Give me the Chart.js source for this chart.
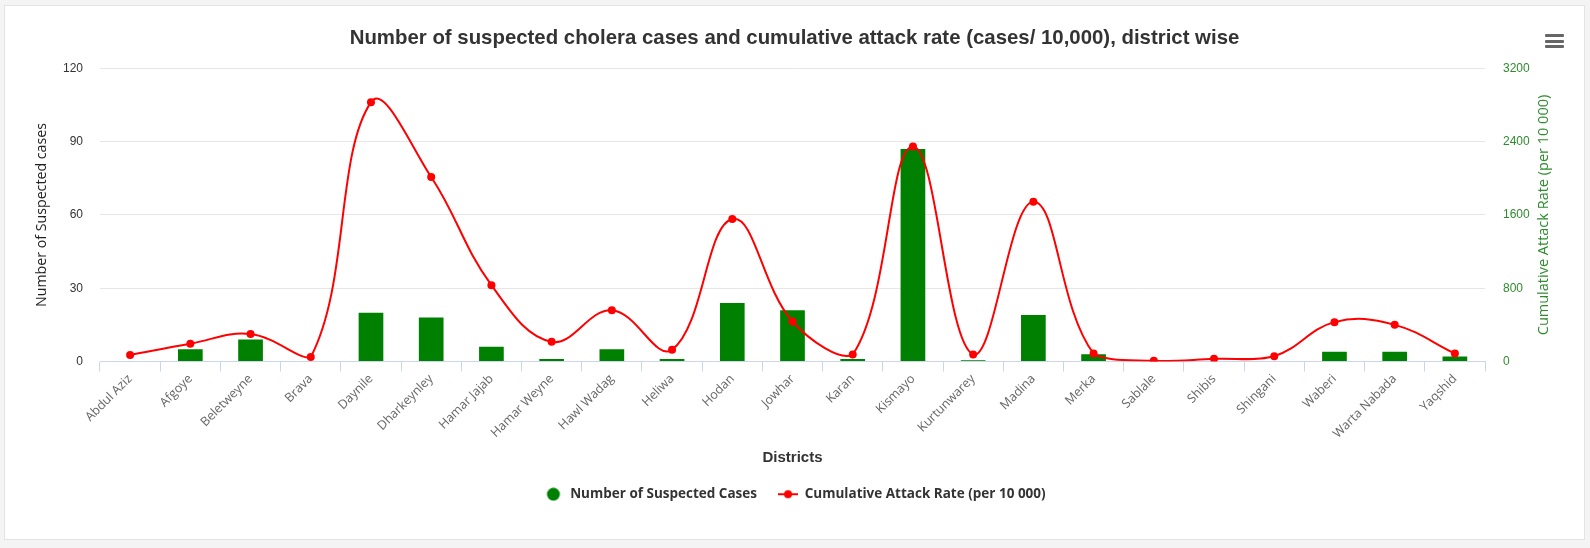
<!DOCTYPE html>
<html lang="en">
<head>
<meta charset="UTF-8">
<script src="https://cdn.jsdelivr.net/npm/chart.js@4.4.0/dist/chart.umd.min.js"></script>
<title>cholera districts</title>
<style>
    body { margin: 0; background: #f4f4f4; width: 1590px; height: 548px; overflow: hidden; }
    .card { position: absolute; left: 4px; top: 5px; width: 1579px; height: 533px; background: #fff; border: 1px solid #e3e3e3; }
    .menu { position: absolute; left: 1545px; top: 34px; width: 19px; }
    .menu span { display: block; height: 3px; background: #666; margin-bottom: 2.5px; border-radius: 1px; }
</style>
</head>
<body>
<div class="card">
    <canvas id="chart" width="1579" height="533"></canvas>
</div>
<div class="menu"><span></span><span></span><span></span></div>

<script>
    // districts along the x axis
    var districts = ['Abdul Aziz', 'Afgoye', 'Beletweyne', 'Brava', 'Daynile', 'Dharkeynley', 'Hamar Jajab',
        'Hamar Weyne', 'Hawl Wadag', 'Heliwa', 'Hodan', 'Jowhar', 'Karan', 'Kismayo', 'Kurtunwarey',
        'Madina', 'Merka', 'Sablale', 'Shibis', 'Shingani', 'Waberi', 'Warta Nabada', 'Yaqshid']
    // number of suspected cases (left axis)
    var cases = [0, 5, 9, 0, 20, 18, 6, 1, 5, 1, 24, 21, 1, 87, 0.5, 19, 3, 0, 0, 0, 4, 4, 2]
    // cumulative attack rate per 10 000 (right axis)
    var rates = [72, 195, 300, 48, 2832, 2015, 834, 215, 560, 127, 1556, 437, 76, 2348, 76, 1745, 87, 7, 29, 58, 430, 400, 87]

    var casesTicks = { min: 0, max: 120, step: 30 }
    var ratesTicks = { min: 0, max: 3200, step: 800 }

    var green = '#008000'
    var red = '#ff0000'
    var axisGreen = '#2e8b2e'

    // legend symbols
    function symbol (draw) {
        var c = document.createElement('canvas')
        c.width = 20
        c.height = 14
        draw(c.getContext('2d'))
        return c
    }
    var dotSymbol = symbol(function (g) {
        g.fillStyle = green
        g.beginPath(); g.arc(10, 7, 6.5, 0, Math.PI * 2); g.fill()
    })
    var lineSymbol = symbol(function (g) {
        g.strokeStyle = red
        g.lineWidth = 2
        g.beginPath(); g.moveTo(0, 7); g.lineTo(20, 7); g.stroke()
        g.fillStyle = red
        g.beginPath(); g.arc(10, 7, 4, 0, Math.PI * 2); g.fill()
    })

    // right axis title reads bottom-to-top like the left one
    var rightTitle = {
        id: 'rightTitle',
        afterDraw: function (chart) {
            var ctx = chart.ctx
            var area = chart.chartArea
            ctx.save()
            ctx.translate(1539, (area.top + area.bottom) / 2)
            ctx.rotate(-Math.PI / 2)
            ctx.font = '14.5px "Open Sans"'
            ctx.fillStyle = axisGreen
            ctx.textAlign = 'center'
            ctx.textBaseline = 'middle'
            ctx.fillText('Cumulative Attack Rate (per 10 000)', 0, 0)
            ctx.restore()
        }
    }

    new Chart('chart', {
        data: {
            labels: districts,
            datasets: [{
                type: 'bar',
                label: 'Number of Suspected Cases',
                data: cases,
                backgroundColor: green,
                yAxisID: 'yCases',
                categoryPercentage: 1,
                barPercentage: 0.41,
                order: 2
            }, {
                type: 'line',
                label: 'Cumulative Attack Rate (per 10 000)',
                data: rates,
                borderColor: red,
                backgroundColor: red,
                borderWidth: 2,
                pointRadius: 4,
                pointBackgroundColor: red,
                pointBorderWidth: 0,
                tension: 0.4,
                yAxisID: 'yRates',
                order: 1
            }]
        },
        options: {
            responsive: false,
            animation: false,
            layout: { padding: { left: 0, right: 0, top: 0, bottom: 28 } },
            plugins: {
                tooltip: { enabled: false },
                title: {
                    display: true,
                    text: 'Number of suspected cholera cases and cumulative attack rate (cases/ 10,000), district wise',
                    color: '#333333',
                    font: { family: '"Liberation Sans", Arial', size: 20.4, weight: 'bold' },
                    padding: { top: 20, bottom: 18 }
                },
                legend: {
                    position: 'bottom',
                    labels: {
                        usePointStyle: true,
                        pointStyleWidth: 20,
                        boxHeight: 9,
                        padding: 21,
                        color: '#333333',
                        font: { family: '"Open Sans"', size: 13.5, weight: 'bold' },
                        generateLabels: function (chart) {
                            return chart.data.datasets.map(function (ds, i) {
                                return {
                                    text: ds.label,
                                    datasetIndex: i,
                                    fillStyle: ds.backgroundColor,
                                    strokeStyle: ds.backgroundColor,
                                    lineWidth: 0,
                                    fontColor: '#333333',
                                    pointStyle: ds.type === 'line' ? lineSymbol : dotSymbol,
                                    hidden: false
                                }
                            })
                        }
                    }
                }
            },
            scales: {
                x: {
                    offset: true,
                    grid: { offset: true, drawOnChartArea: false, drawTicks: true, tickLength: 10, color: '#ccd6eb' },
                    border: { color: '#ccd6eb' },
                    ticks: {
                        maxRotation: 45, minRotation: 45, autoSkip: false, padding: 0,
                        color: '#666666', font: { family: '"Open Sans"', size: 12.5 }
                    },
                    title: {
                        display: true, text: 'Districts', color: '#333333',
                        font: { family: '"Liberation Sans", Arial', size: 15, weight: 'bold' },
                        padding: 0
                    },
                    afterFit: function (scale) { scale.height = 105 }
                },
                yCases: {
                    position: 'left',
                    min: casesTicks.min, max: casesTicks.max,
                    ticks: {
                        stepSize: casesTicks.step, padding: 17, color: '#333333',
                        font: { family: '"Liberation Sans", Arial', size: 12 }
                    },
                    grid: { color: '#e6e6e6', drawTicks: false },
                    border: { display: false },
                    title: {
                        display: true, text: 'Number of Suspected cases', color: '#222222',
                        font: { family: '"Open Sans"', size: 14.2 },
                        padding: { top: 28, bottom: 0 }
                    },
                    afterFit: function (scale) { scale.width = 95 }
                },
                yRates: {
                    position: 'right',
                    min: ratesTicks.min, max: ratesTicks.max,
                    ticks: {
                        stepSize: ratesTicks.step, padding: 10, color: axisGreen,
                        font: { family: '"Liberation Sans", Arial', size: 12 },
                        callback: function (v) { return String(v) }
                    },
                    grid: { display: false },
                    border: { display: false },
                    afterFit: function (scale) { scale.width = 99 }
                }
            }
        },
        plugins: [rightTitle]
    })
</script>
</body>
</html>
